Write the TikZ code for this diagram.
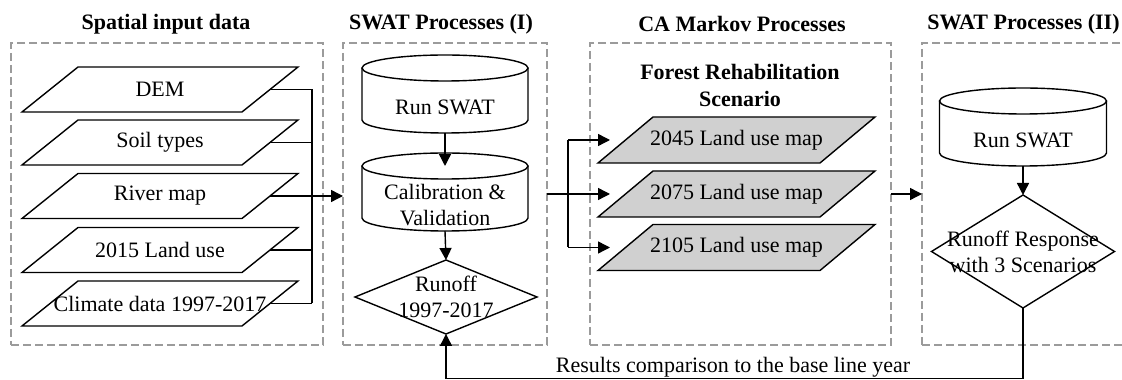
\documentclass[tikz,border=0pt]{standalone}
\usepackage{fontspec}
\setmainfont{Liberation Serif}
\usetikzlibrary{arrows.meta,calc,backgrounds}
\definecolor{boxgray}{RGB}{155,155,155}
\definecolor{mapgray}{RGB}{208,208,208}
% parallelogram: node name, slant, style
\newcommand\mypar[3]{\draw[#3] (#1.south west) -- ($(#1.north west)+(#2,0)$) -- (#1.north east) -- ($(#1.south east)+(-#2,0)$) -- cycle;}
% diamond
\newcommand\mydia[1]{\draw[shapeline] (#1.north) -- (#1.east) -- (#1.south) -- (#1.west) -- cycle;}
% cylinder: node name, x radius, y radius
\newcommand\mycyl[3]{%
  \draw[shapeline] ($(#1.north west)+(0,#3)$) -- ($(#1.south west)+(0,#3)$) arc[start angle=180,end angle=360,x radius=#2,y radius=#3] -- ($(#1.north east)+(0,#3)$);
  \draw[shapeline] ($(#1.north)+(0,#3)$) ellipse[x radius=#2,y radius=#3];}
\begin{document}
\begin{tikzpicture}[x=1pt,y=1pt,
  font=\fontsize{22}{26}\selectfont,
  shapeline/.style={line width=1.4pt, draw=black},
  conn/.style={line width=1.4pt},
  arr/.style={line width=1.4pt, -{Triangle[length=12pt,width=12pt]}},
  grp/.style={draw=boxgray, line width=1.8pt, dash pattern=on 8pt off 4pt, inner sep=0pt, outer sep=0pt, minimum height=302pt},
  ttl/.style={font=\fontsize{22}{27}\selectfont\bfseries, inner sep=0pt},
  plain/.style={inner sep=0pt, outer sep=0pt},
  lpar/.style={plain, minimum width=276pt, minimum height=45pt},
  gpar/.style={plain, minimum width=277pt, minimum height=46pt},
  cyl/.style={plain, align=center, minimum height=52pt}]
\useasboundingbox (0,0) rectangle (1122,380);
\begin{scope}[on background layer]
  \fill[white] (0,0) rectangle (1122,380);
\end{scope}

% group boxes
\node[grp, minimum width=312pt] (b1) at (167,186) {};
\node[grp, minimum width=204pt] (b2) at (445,186) {};
\node[grp, minimum width=301pt] (b3) at (740.5,186) {};
\node[grp, minimum width=218pt] (b4) at (1031,186) {};

% titles
\node[ttl] (t1) at (166,356) {Spatial input data};
\node[ttl] (t2) at (441,356) {SWAT Processes (I)};
\node[ttl] (t3) at (742,356) {CA Markov Processes};
\node[ttl] (t4) at (1023.5,356) {SWAT Processes (II)};
\node[ttl, align=center] (sub) at (740,294.5) {Forest Rehabilitation\\Scenario};

% spatial input layers
\node[lpar] (p1) at (160,290.5) {DEM};
\node[lpar] (p2) at (160,237.5) {Soil types};
\node[lpar] (p3) at (160,184) {River map};
\node[lpar] (p4) at (160,130) {2015 Land use};
\node[lpar] (p5) at (160,76.5) {Climate data 1997-2017};

% SWAT I
\node[cyl, minimum width=166pt] (c1) at (445,273) {Run SWAT};
\node[cyl, minimum width=166pt] (c2) at (445,175) {Calibration \&\\Validation};
\node[plain, align=center, minimum width=182pt, minimum height=74pt] (d1) at (446,83) {Runoff\\1997-2017};

% CA Markov maps
\node[gpar] (g1) at (736.5,240) {2045 Land use map};
\node[gpar] (g2) at (736.5,186) {2075 Land use map};
\node[gpar] (g3) at (736.5,132.5) {2105 Land use map};

% SWAT II
\node[cyl, minimum width=167pt] (c3) at (1023,240) {Run SWAT};
\node[plain, align=center, minimum width=183pt, minimum height=113pt] (d2) at (1023,128.5) {Runoff Response\\with 3 Scenarios};

% bottom label
\node[plain] (lbl) at (733,13) {Results comparison to the base line year};

% shape outlines behind texts
\begin{scope}[on background layer]
  \foreach \p in {p1,p2,p3,p4,p5} {\mypar{\p}{56}{shapeline}}
  \foreach \g in {g1,g2,g3} {\mypar{\g}{55}{shapeline, fill=mapgray}}
  \mycyl{c1}{83}{13}
  \mycyl{c2}{83}{13}
  \mycyl{c3}{83.5}{13}
  \mydia{d1}
  \mydia{d2}
\end{scope}

% connectors: inputs to SWAT
\coordinate (j1) at (312,184);
\foreach \p in {p1,p2,p3,p4,p5} {\draw[conn] ($(\p.east)+(-28,0)$) -- (j1 |- \p.east);}
\draw[conn] (j1 |- p1.east) -- (j1 |- p5.east);
\draw[arr] (j1 |- p3.east) -- (b2.west |- p3.east);

% SWAT I flow
\draw[arr] (c1.south) -- ($(c2.north)+(0,13)$);
\draw[arr] (c2.south) -- (d1.north);

% to CA Markov
\coordinate (j2) at (568,186);
\draw[conn] (b2.east |- g2.west) -- (j2 |- g2.west);
\draw[conn] (j2 |- g1.west) -- (j2 |- g3.west);
\foreach \g in {g1,g2,g3} {\draw[arr] (j2 |- \g.west) -- ($(\g.west)+(12,0)$);}

% to SWAT II
\draw[arr] (b3.east |- g2.west) -- (b4.west |- g2.west);
\draw[arr] (c3.south) -- (d2.north);

% comparison loop
\coordinate (j3) at (0,1.5);
\draw[arr] (d2.south) |- (d1.south |- j3) -- (d1.south);
\end{tikzpicture}
\end{document}
